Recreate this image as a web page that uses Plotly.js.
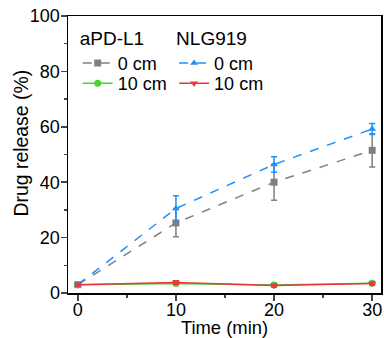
<!DOCTYPE html>
<html><head><meta charset="utf-8">
<script src="https://cdn.plot.ly/plotly-3.0.1.min.js"></script>
<style>html,body{margin:0;padding:0;background:#fff}#chart{width:384px;height:338px}</style>
</head><body><div id="chart"></div>
<script>
const time = [0, 10, 20, 30];
const apd0 = [3.0, 25.3, 40.0, 51.5];
const apd0Err = [0.5, 5.0, 6.5, 6.0];
const apd10 = [3.0, 3.4, 2.9, 3.5];
const apd10Err = [0.4, 0.6, 0.5, 0.5];
const nlg0 = [3.0, 30.5, 46.4, 59.2];
const nlg0Err = [0.5, 4.6, 2.8, 2.0];
const nlg10 = [3.0, 3.8, 2.7, 3.4];
const nlg10Err = [0.5, 0.6, 0.5, 0.5];
const yTitle = 'Drug release (%)';
const xTitle = 'Time (min)';

const F = 'Liberation Sans, Arial, sans-serif';
function tr(y, e, name, color, sym, dash, legend) {
  return {x: time, y: y, name: name, type: 'scatter', mode: 'lines+markers',
    line: {color: color, width: 1.5, dash: dash},
    marker: {color: color, symbol: sym, size: 7},
    error_y: {type: 'data', array: e, visible: true, color: color, thickness: 1.5, width: 3},
    legend: legend};
}
const data = [
  tr(apd0, apd0Err, '0 cm', '#808080', 'square', 'dash', 'legend'),
  tr(apd10, apd10Err, '10 cm', '#4cd137', 'circle', 'solid', 'legend2'),
  tr(nlg0, nlg0Err, '0 cm', '#1e90ff', 'triangle-up', 'dash', 'legend3'),
  tr(nlg10, nlg10Err, '10 cm', '#e8383d', 'triangle-down', 'solid', 'legend4')
];
const LF = {family: F, size: 18, color: '#000'};
const TF = {family: F, size: 19, color: '#000'};
function leg(x, y, title) {
  const o = {xanchor: 'left', yanchor: 'top', x: x, y: y, bgcolor: 'rgba(0,0,0,0)',
    font: LF, itemwidth: 30, tracegroupgap: 0};
  if (title) o.title = {text: title, font: TF};
  return o;
}
const layout = {
  width: 384, height: 338,
  margin: {l: 68, r: 3, t: 16, b: 45},
  paper_bgcolor: '#fff', plot_bgcolor: '#fff',
  font: {family: F, size: 18, color: '#000'},
  showlegend: true,
  legend: leg(0.031, 0.985, 'aPD-L1'),
  legend2: leg(0.031, 0.823, null),
  legend3: leg(0.339, 0.985, 'NLG919'),
  legend4: leg(0.339, 0.823, null),
  annotations: [{text: yTitle, textangle: -90, xref: 'paper', yref: 'paper',
    x: -0.150, y: 0.54, xanchor: 'center', yanchor: 'middle', showarrow: false,
    font: {family: F, size: 19.4, color: '#000'}}],
  xaxis: {range: [-1, 30.9], tickvals: time, ticks: 'outside', ticklen: 6, tickwidth: 1.5,
    showline: true, linewidth: 1.5, linecolor: '#000', mirror: true, showgrid: false, zeroline: false,
    minor: {dtick: 5, tick0: 0, ticks: 'outside', ticklen: 3, tickwidth: 1.5, showgrid: false},
    ticklabelstandoff: -6,
    title: {text: xTitle, font: {family: F, size: 18.4}, standoff: 5},
    tickfont: {family: F, size: 18}},
  yaxis: {range: [0, 100], dtick: 20, ticks: 'outside', ticklen: 6, tickwidth: 1.5,
    showline: true, linewidth: 1.5, linecolor: '#000', mirror: true, showgrid: false, zeroline: false,
    minor: {dtick: 10, ticks: 'outside', ticklen: 3, tickwidth: 1.5, showgrid: false},
    ticklabelstandoff: -3,
    tickfont: {family: F, size: 18}}
};
Plotly.newPlot('chart', data, layout, {displayModeBar: false, staticPlot: true});
</script></body></html>
